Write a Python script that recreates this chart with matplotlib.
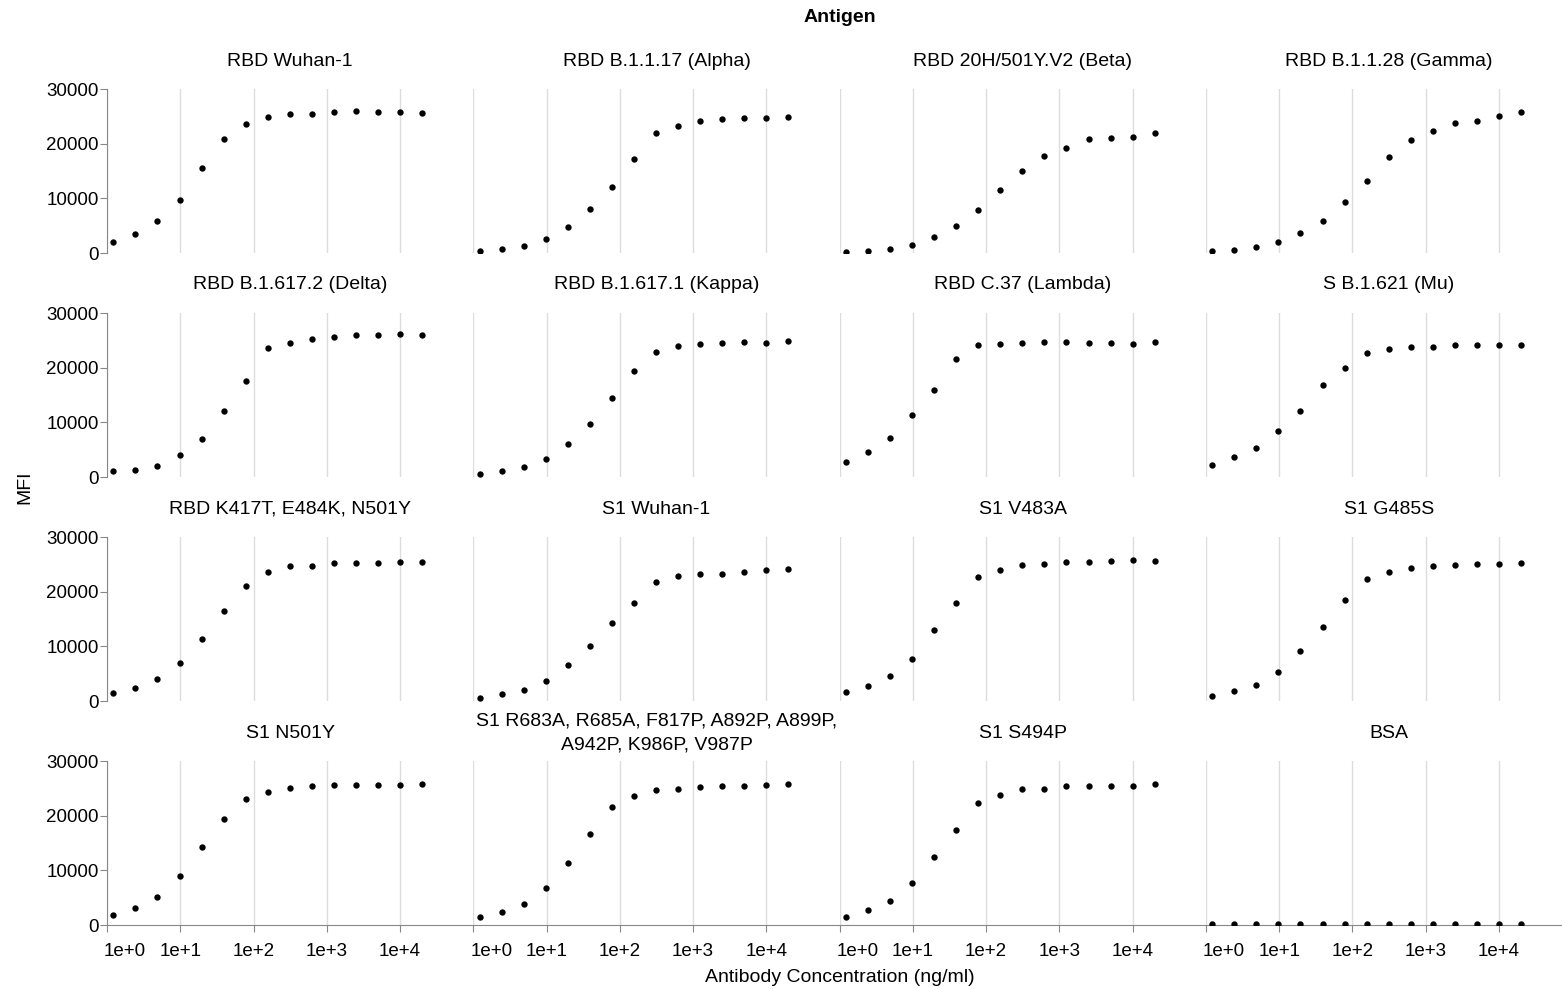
import math
import matplotlib
matplotlib.use("Agg")
import matplotlib.pyplot as plt
from matplotlib.ticker import FixedLocator, FuncFormatter, NullLocator
from matplotlib.transforms import ScaledTranslation

plt.rcParams["font.family"] = ["Liberation Sans", "DejaVu Sans"]

# two-fold dilution series, ng/ml
conc = [1.22, 2.44, 4.88, 9.77, 19.5, 39.1, 78.1, 156, 312.5, 625, 1250, 2500, 5000, 10000, 20000]

antigens = [
    "RBD Wuhan-1", "RBD B.1.1.17 (Alpha)", "RBD 20H/501Y.V2 (Beta)", "RBD B.1.1.28 (Gamma)",
    "RBD B.1.617.2 (Delta)", "RBD B.1.617.1 (Kappa)", "RBD C.37 (Lambda)", "S B.1.621 (Mu)",
    "RBD K417T, E484K, N501Y", "S1 Wuhan-1", "S1 V483A", "S1 G485S",
    "S1 N501Y", "S1 R683A, R685A, F817P, A892P, A899P,\nA942P, K986P, V987P", "S1 S494P", "BSA",
]

mfi_rbd_wuhan = [2000, 3550, 5800, 9750, 15600, 20800, 23600, 24950, 25500, 25500, 25800, 25900, 25850, 25850, 25700]
mfi_rbd_alpha = [370, 730, 1340, 2620, 4820, 7990, 12130, 17260, 21950, 23290, 24090, 24510, 24640, 24640, 24940]
mfi_rbd_beta = [180, 370, 730, 1530, 2930, 4880, 7870, 11460, 15060, 17680, 19270, 20790, 20980, 21220, 21890]
mfi_rbd_gamma = [300, 550, 1100, 2010, 3660, 5850, 9330, 13170, 17500, 20670, 22380, 23840, 24210, 25120, 25730]
mfi_rbd_delta = [1100, 1280, 2070, 4030, 6890, 12010, 17560, 23660, 24580, 25310, 25610, 25980, 25980, 26100, 25980]
mfi_rbd_kappa = [550, 1040, 1770, 3350, 6100, 9700, 14510, 19390, 22870, 24030, 24330, 24580, 24700, 24580, 24820]
mfi_rbd_lambda = [2680, 4630, 7140, 11400, 15920, 21590, 24150, 24330, 24450, 24700, 24640, 24510, 24450, 24390, 24640]
mfi_s_mu = [2130, 3600, 5370, 8350, 12010, 16770, 19940, 22750, 23420, 23720, 23780, 24210, 24150, 24210, 24150]
mfi_rbd_triple = [1400, 2380, 3960, 6890, 11400, 16400, 21100, 23540, 24640, 24760, 25250, 25180, 25250, 25490, 25430]
mfi_s1_wuhan = [610, 1220, 2070, 3720, 6530, 10000, 14210, 17870, 21770, 22810, 23230, 23290, 23600, 23970, 24150]
mfi_s1_v483a = [1590, 2740, 4570, 7740, 12990, 17930, 22680, 24030, 24880, 25120, 25370, 25430, 25550, 25730, 25670]
mfi_s1_g485s = [980, 1770, 2990, 5310, 9150, 13480, 18420, 22320, 23600, 24270, 24700, 24940, 25000, 25120, 25250]
mfi_s1_n501y = [1890, 3170, 5180, 9030, 14210, 19330, 23050, 24330, 25060, 25430, 25610, 25550, 25550, 25670, 25800]
mfi_s1_hexapro = [1400, 2320, 3840, 6770, 11280, 16650, 21530, 23540, 24760, 24820, 25250, 25430, 25430, 25670, 25730]
mfi_s1_s494p = [1520, 2680, 4450, 7680, 12500, 17440, 22260, 23720, 24880, 24880, 25370, 25370, 25370, 25430, 25800]
mfi_bsa = [110, 100, 105, 100, 110, 105, 100, 110, 105, 100, 110, 105, 110, 100, 105]

mfi = [
    mfi_rbd_wuhan, mfi_rbd_alpha, mfi_rbd_beta, mfi_rbd_gamma,
    mfi_rbd_delta, mfi_rbd_kappa, mfi_rbd_lambda, mfi_s_mu,
    mfi_rbd_triple, mfi_s1_wuhan, mfi_s1_v483a, mfi_s1_g485s,
    mfi_s1_n501y, mfi_s1_hexapro, mfi_s1_s494p, mfi_bsa,
]

W, H = 1562, 989
fig = plt.figure(figsize=(W / 100, H / 100), dpi=100)

left0, top0 = 107, 89
col_w, row_h, row_step = 366.3, 164, 224
axis_grey = "#888888"
fs = 14

for i, (name, vals) in enumerate(zip(antigens, mfi)):
    r, c = divmod(i, 4)
    x0 = left0 + c * col_w
    y0 = top0 + r * row_step
    ax = fig.add_axes([x0 / W, 1 - (y0 + row_h) / H, col_w / W, row_h / H])
    ax.patch.set_facecolor("none")
    ax.set_xscale("log")
    ax.set_xlim(1, 1e5)
    ax.set_ylim(0, 30000)
    ax.scatter(conc, vals, s=21, color="black", linewidths=0, zorder=3)

    ax.xaxis.set_major_locator(FixedLocator([1, 10, 100, 1e3, 1e4]))
    ax.xaxis.set_minor_locator(NullLocator())
    ax.xaxis.set_major_formatter(FuncFormatter(lambda v, p: "1e+%d" % round(math.log10(v))))
    ax.yaxis.set_major_locator(FixedLocator([0, 10000, 20000, 30000]))
    ax.yaxis.set_major_formatter(FuncFormatter(lambda v, p: "%d" % v))
    ax.grid(axis="x", color="#dddddd", linewidth=1)
    ax.set_axisbelow(True)

    for s in ax.spines.values():
        s.set_visible(False)

    if c == 0:
        ax.spines["left"].set_visible(True)
        ax.spines["left"].set_color(axis_grey)
        ax.tick_params(axis="y", length=5, color=axis_grey, labelsize=fs - 0.5, pad=1)
    else:
        ax.tick_params(axis="y", left=False, labelleft=False)

    if r == 3:
        ax.spines["bottom"].set_visible(True)
        ax.spines["bottom"].set_color(axis_grey)
        ax.tick_params(axis="x", length=5, color=axis_grey, labelsize=fs - 0.5, pad=8)
        # first label sits flush with the left end of the axis
        first = ax.xaxis.get_major_ticks()[0].label1
        first.set_horizontalalignment("left")
        first.set_transform(first.get_transform() + ScaledTranslation(-0.03, 0, fig.dpi_scale_trans))
    else:
        ax.tick_params(axis="x", bottom=False, labelbottom=False)

    fig.text((x0 + col_w / 2) / W, 1 - (y0 - 28) / H, name, ha="center", va="center",
             fontsize=fs, linespacing=1.55)

fig.text(840 / W, 1 - 17 / H, "Antigen", ha="center", va="center", fontsize=fs, weight="bold")
fig.text(25 / W, 1 - 487 / H, "MFI", ha="center", va="center", fontsize=fs, rotation=90)
fig.text(840 / W, 1 - 978 / H, "Antibody Concentration (ng/ml)", ha="center", va="center", fontsize=fs)

fig.savefig("out.png", dpi=100)
